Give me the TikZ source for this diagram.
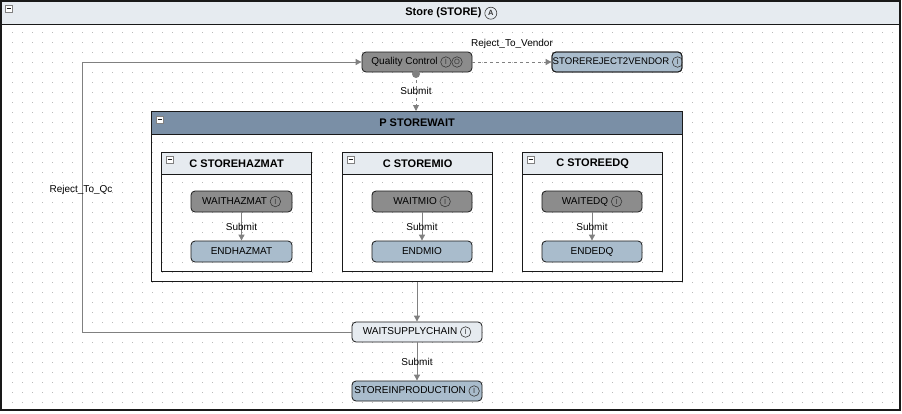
\documentclass[tikz,border=0pt]{standalone}
\usepackage{fontspec}
\setmainfont{Liberation Sans}
\usetikzlibrary{arrows.meta}
\definecolor{nodedark}{RGB}{140,140,140}
\definecolor{nodeblue}{RGB}{169,188,204}
\definecolor{hdrlight}{RGB}{230,235,240}
\definecolor{hdrslate}{RGB}{122,143,166}
\definecolor{conncol}{RGB}{128,128,128}
\definecolor{griddot}{RGB}{185,185,185}
\definecolor{framec}{RGB}{25,25,25}
\definecolor{circcol}{RGB}{55,55,55}
\newcommand{\circmark}[2][10.5pt]{\tikz[baseline=(cm.base)]\node[draw=circcol, circle, inner sep=0pt, minimum size=#1, line width=0.6pt, font=\fontsize{7.5}{8}\selectfont, text=circcol] (cm) {#2};}
\newcommand{\cI}{\circmark{I}}
\newcommand{\cO}{\circmark{O}}
\newcommand{\cA}{\circmark[12pt]{\bfseries A}}
\tikzset{
  statebase/.style={draw=framec, rounded corners=4pt, minimum height=20pt, inner sep=0pt, line width=0.8pt},
  statedark/.style={statebase, fill=nodedark},
  stateblue/.style={statebase, fill=nodeblue},
  statelight/.style={statebase, fill=hdrlight},
  conn/.style={draw=conncol, line width=0.9pt, -{Triangle[length=6pt,width=6pt]}},
  lbl/.style={font=\fontsize{10}{12}\selectfont, inner sep=1pt},
  hdrfont/.style={font=\bfseries\fontsize{11}{13}\selectfont},
  cbox/.style={draw=framec, line width=1.2pt, anchor=north west, inner sep=0pt, minimum height=119pt},
  chdr/.style={draw=framec, line width=1.2pt, fill=hdrlight, anchor=north west, inner sep=0pt, minimum height=22pt, hdrfont},
  minusicon/.pic={
    \draw[draw=gray, fill=white, line width=0.6pt] (0,0) rectangle (7,7);
    \draw[framec, line width=1.2pt] (1.5,3.5) -- (5.5,3.5);
  }
}
\begin{document}
\begin{tikzpicture}[x=1pt, y=-1pt, font=\fontsize{10}{12}\selectfont]
\useasboundingbox (0,0) rectangle (902,413);
\fill[white] (0,0) rectangle (902,413);
% grid
\foreach \i in {0,...,88} {
  \foreach \j in {0,...,37} {
    \fill[griddot] (11.5+10*\i, 31.5+10*\j) rectangle ++(1,1);
  }
}
% title bar
\node[fill=hdrlight, minimum width=898pt, minimum height=22pt, anchor=north west, inner sep=0pt, hdrfont] (title) at (2,2) {Store (STORE) \cA};
\draw[framec, line width=1.2pt] (title.south west) -- (title.south east);
\pic at (5,5) {minusicon};
% P STOREWAIT container
\node[draw=framec, line width=1.2pt, anchor=north west, inner sep=0pt, minimum width=531pt, minimum height=170pt] (pbox) at (151,111) {};
\node[fill=hdrslate, draw=framec, line width=1.2pt, anchor=north west, inner sep=0pt, minimum width=531pt, minimum height=23pt, hdrfont] (phdr) at (151,111) {P STOREWAIT};
\pic at (156,116) {minusicon};
% C boxes
\node[cbox, minimum width=150pt] (hzbox) at (161,152) {};
\node[chdr, minimum width=150pt] (hzhdr) at (161,152) {C STOREHAZMAT};
\pic at (166,156) {minusicon};
\node[cbox, minimum width=150pt] (miobox) at (342,152) {};
\node[chdr, minimum width=150pt] (miohdr) at (342,152) {C STOREMIO};
\pic at (347,156) {minusicon};
\node[cbox, minimum width=140pt] (edqbox) at (522,152) {};
\node[chdr, minimum width=140pt] (edqhdr) at (522,152) {C STOREEDQ};
\pic at (527,156) {minusicon};
% states
\node[statedark, minimum width=110pt] (qc) at (417,62) {Quality Control \cI\cO};
\node[stateblue, minimum width=130pt] (rej) at (617,62) {};
\begin{scope}
  \clip[rounded corners=4pt] (552,52) rectangle (682,72);
  \node[anchor=west, inner sep=0pt, font=\fontsize{9.6}{11}\selectfont] (rejtext) at (552.5,62) {STOREREJECT2VENDOR \cI};
\end{scope}
\draw[framec, line width=0.8pt, rounded corners=4pt] (552,52) rectangle (682,72);
\node[statedark, minimum width=101pt, minimum height=21pt] (wh) at (241.5,201.5) {WAITHAZMAT \cI};
\node[stateblue, minimum width=101pt, minimum height=21pt] (eh) at (241.5,251.5) {ENDHAZMAT};
\node[statedark, minimum width=100pt, minimum height=21pt] (wm) at (422,201.5) {WAITMIO \cI};
\node[stateblue, minimum width=100pt, minimum height=21pt] (em) at (422,251.5) {ENDMIO};
\node[statedark, minimum width=100pt, minimum height=21pt] (we) at (592,201.5) {WAITEDQ \cI};
\node[stateblue, minimum width=100pt, minimum height=21pt] (ee) at (592,251.5) {ENDEDQ};
\node[statelight, minimum width=130pt] (wsc) at (417,332) {WAITSUPPLYCHAIN \cI};
\node[stateblue, minimum width=130pt] (sip) at (417,391) {STOREINPRODUCTION \cI};
% QC outcome dot
\node[circle, fill=conncol, minimum size=8pt, inner sep=0pt] (qcdot) at (416,74) {};
% connectors
\draw[conn, dashed] (qc.east) -- (rej.west);
\node[lbl] (lrv) at (512,44) {Reject\_To\_Vendor};
\draw[conn, dashed] (qcdot.center) -- (qcdot.center |- pbox.north) node[pos=0.45, lbl] {Submit};
\draw[conn] (wh.south) -- (eh.north) node[midway, lbl] {Submit};
\draw[conn] (wm.south) -- (em.north) node[midway, lbl] {Submit};
\draw[conn] (we.south) -- (ee.north) node[midway, lbl] {Submit};
\draw[conn] (pbox.south -| wsc.north) -- (wsc.north);
\draw[conn] (wsc.south) -- (sip.north) node[midway, lbl] {Submit};
\coordinate (rqx) at (82,200);
\draw[conn] (wsc.west) -- (wsc.west -| rqx) -- (qc.west -| rqx) -- (qc.west);
\node[lbl] (lrq) at (81,190) {Reject\_To\_Qc};
% outer frame
\draw[framec, line width=2pt] (1,1) rectangle (900,410);
\end{tikzpicture}
\end{document}
